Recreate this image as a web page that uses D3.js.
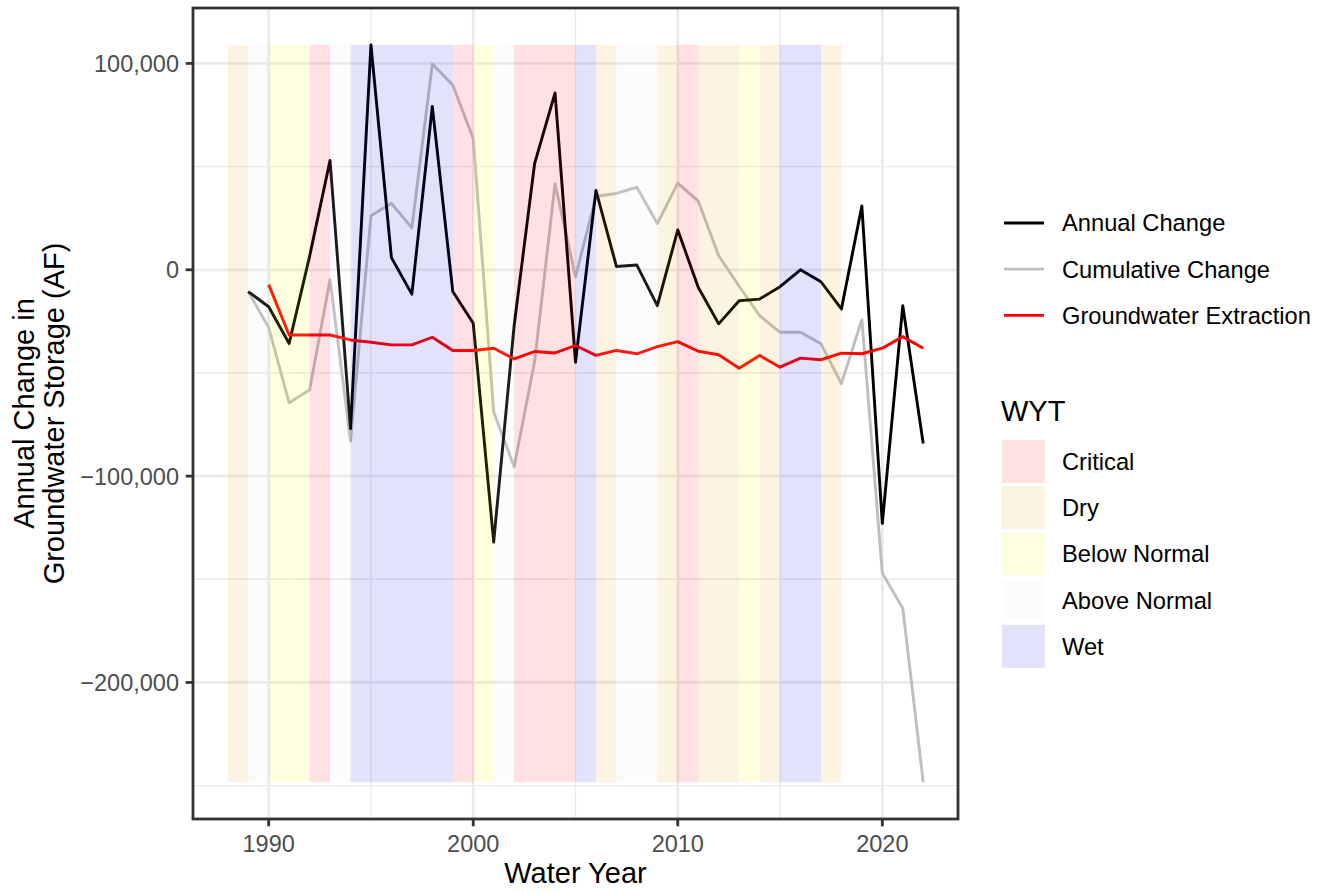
<!DOCTYPE html>
<html>
<head>
<meta charset="utf-8">
<script src="https://cdn.jsdelivr.net/npm/d3@7"></script>
<style>
  body { margin: 0; background: #fff; }
  text { font-family: "Liberation Sans", Arial, Helvetica, sans-serif; }
</style>
</head>
<body>
<script>
// water years for the storage series
var years = [1989, 1990, 1991, 1992, 1993, 1994, 1995, 1996, 1997, 1998, 1999, 2000,
  2001, 2002, 2003, 2004, 2005, 2006, 2007, 2008, 2009, 2010, 2011, 2012, 2013, 2014,
  2015, 2016, 2017, 2018, 2019, 2020, 2021, 2022]

var annualChange = [-10600, -17900, -35700, 6500, 53000, -77000, 109000, 5900, -11800, 79200,
  -10500, -25900, -132000, -27000, 51400, 85700, -44800, 38500, 1600, 2300, -17400, 19300,
  -8500, -26200, -15000, -14200, -8200, 0, -5800, -19000, 30900, -122900, -17400, -84200]

var cumulativeChange = [-10600, -28000, -64500, -58100, -4800, -83000, 26200, 32200, 20300, 99700,
  89500, 63600, -68800, -95500, -44500, 41600, -3400, 35500, 37000, 40000, 22400, 42000,
  33300, 6800, -8000, -22200, -30300, -30300, -35900, -55200, -24200, -147000, -164000, -248300]

var extractionYears = [1990, 1991, 1992, 1993, 1994, 1995, 1996, 1997, 1998, 1999, 2000,
  2001, 2002, 2003, 2004, 2005, 2006, 2007, 2008, 2009, 2010, 2011, 2012, 2013, 2014,
  2015, 2016, 2017, 2018, 2019, 2020, 2021, 2022]

var extraction = [-7200, -31600, -31600, -31600, -34000, -35100, -36400, -36400, -32700, -39100,
  -39100, -38000, -43200, -39600, -40300, -36700, -41500, -39100, -40700, -37200, -34800,
  -39500, -41200, -47700, -41500, -47200, -42800, -43600, -40400, -40700, -38000, -32400, -38000]

// water year type bands, each one spans [start, start + 1]
var wytStart = [1988, 1989, 1990, 1991, 1992, 1993, 1994, 1995, 1996, 1997, 1998, 1999,
  2000, 2001, 2002, 2003, 2004, 2005, 2006, 2007, 2008, 2009, 2010, 2011, 2012, 2013,
  2014, 2015, 2016, 2017]
var wytType = ['Dry', 'Above Normal', 'Below Normal', 'Below Normal', 'Critical', 'Above Normal',
  'Wet', 'Wet', 'Wet', 'Wet', 'Wet', 'Critical', 'Below Normal', 'Above Normal',
  'Critical', 'Critical', 'Critical', 'Wet', 'Dry', 'Above Normal', 'Above Normal', 'Dry',
  'Critical', 'Dry', 'Dry', 'Below Normal', 'Dry', 'Wet', 'Wet', 'Dry']

var wytLevels = ['Critical', 'Dry', 'Below Normal', 'Above Normal', 'Wet']
var wytColors = ['#ff0a1e', '#ee9a16', '#ffff00', '#e8e8e8', '#1010e0']

var seriesNames = ['Annual Change', 'Cumulative Change', 'Groundwater Extraction']
var seriesColors = ['#000000', '#bebebe', '#ff0000']

var xTicks = [1990, 2000, 2010, 2020]
var xMinor = [1995, 2005, 2015]
var yTicks = [-200000, -100000, 0, 100000]
var yMinor = [-250000, -150000, -50000, 50000]

var width = 1327, height = 893
var panel = { left: 193, top: 8, right: 958, bottom: 819 }
var bandAlpha = 0.12

var svg = d3.select('body')
  .append('svg')
  .attr('width', width)
  .attr('height', height)

// ggplot style 5% expansion
var xLo = d3.min(wytStart), xHi = d3.max(years)
var xPad = (xHi - xLo) * 0.05
var x = d3.scaleLinear()
  .domain([xLo - xPad, xHi + xPad])
  .range([panel.left, panel.right])

var allVals = annualChange.concat(cumulativeChange, extraction)
var yLo = d3.min(allVals), yHi = d3.max(allVals)
var yPad = (yHi - yLo) * 0.05
var y = d3.scaleLinear()
  .domain([yLo - yPad, yHi + yPad])
  .range([panel.bottom, panel.top])

var fillOf = d3.scaleOrdinal().domain(wytLevels).range(wytColors)

// grid
var grid = svg.append('g')
grid.selectAll('.ymin').data(yMinor).enter().append('line')
  .attr('x1', panel.left).attr('x2', panel.right)
  .attr('y1', function (d) { return y(d) }).attr('y2', function (d) { return y(d) })
  .attr('stroke', '#ebebeb').attr('stroke-width', 1.4)
grid.selectAll('.xmin').data(xMinor).enter().append('line')
  .attr('y1', panel.top).attr('y2', panel.bottom)
  .attr('x1', function (d) { return x(d) }).attr('x2', function (d) { return x(d) })
  .attr('stroke', '#ebebeb').attr('stroke-width', 1.4)
grid.selectAll('.ymaj').data(yTicks).enter().append('line')
  .attr('x1', panel.left).attr('x2', panel.right)
  .attr('y1', function (d) { return y(d) }).attr('y2', function (d) { return y(d) })
  .attr('stroke', '#ebebeb').attr('stroke-width', 2.8)
grid.selectAll('.xmaj').data(xTicks).enter().append('line')
  .attr('y1', panel.top).attr('y2', panel.bottom)
  .attr('x1', function (d) { return x(d) }).attr('x2', function (d) { return x(d) })
  .attr('stroke', '#ebebeb').attr('stroke-width', 2.8)

// lines
var line = d3.line()
  .x(function (d) { return x(d[0]) })
  .y(function (d) { return y(d[1]) })

var seriesData = [
  d3.zip(years, annualChange),
  d3.zip(years, cumulativeChange),
  d3.zip(extractionYears, extraction)
]

var drawOrder = [1, 0, 2]
drawOrder.forEach(function (i) {
  svg.append('path')
    .datum(seriesData[i])
    .attr('d', line)
    .attr('fill', 'none')
    .attr('stroke', seriesColors[i])
    .attr('stroke-width', 2.9)
    .attr('stroke-linejoin', 'round')
})

// WYT bands sit on top of the lines, semi transparent
var bandTop = d3.max(allVals), bandBottom = d3.min(allVals)
svg.append('g')
  .selectAll('rect')
  .data(d3.zip(wytStart, wytType))
  .enter().append('rect')
  .attr('x', function (d) { return x(d[0]) })
  .attr('width', function (d) { return x(d[0] + 1) - x(d[0]) })
  .attr('y', y(bandTop))
  .attr('height', y(bandBottom) - y(bandTop))
  .attr('fill', function (d) { return fillOf(d[1]) })
  .attr('fill-opacity', bandAlpha)

// panel border
svg.append('rect')
  .attr('x', panel.left).attr('y', panel.top)
  .attr('width', panel.right - panel.left)
  .attr('height', panel.bottom - panel.top)
  .attr('fill', 'none')
  .attr('stroke', '#333333')
  .attr('stroke-width', 2.8)

// axes
var fmt = d3.format(',')
var yAxis = svg.append('g')
yAxis.selectAll('line').data(yTicks).enter().append('line')
  .attr('x1', panel.left - 7.3).attr('x2', panel.left)
  .attr('y1', function (d) { return y(d) }).attr('y2', function (d) { return y(d) })
  .attr('stroke', '#333333').attr('stroke-width', 2.8)
yAxis.selectAll('text').data(yTicks).enter().append('text')
  .attr('x', panel.left - 14)
  .attr('y', function (d) { return y(d) + 8.4 })
  .attr('text-anchor', 'end')
  .attr('font-size', 23.5)
  .attr('fill', '#4d4d4d')
  .text(function (d) { return fmt(d) })

var xAxis = svg.append('g')
xAxis.selectAll('line').data(xTicks).enter().append('line')
  .attr('y1', panel.bottom).attr('y2', panel.bottom + 7.3)
  .attr('x1', function (d) { return x(d) }).attr('x2', function (d) { return x(d) })
  .attr('stroke', '#333333').attr('stroke-width', 2.8)
xAxis.selectAll('text').data(xTicks).enter().append('text')
  .attr('x', function (d) { return x(d) })
  .attr('y', 852)
  .attr('text-anchor', 'middle')
  .attr('font-size', 23.5)
  .attr('fill', '#4d4d4d')
  .text(function (d) { return d })

svg.append('text')
  .attr('x', (panel.left + panel.right) / 2)
  .attr('y', 883)
  .attr('text-anchor', 'middle')
  .attr('font-size', 29)
  .text('Water Year')

var midY = (panel.top + panel.bottom) / 2
var yTitle = ['Annual Change in', 'Groundwater Storage (AF)']
yTitle.forEach(function (t, i) {
  var bx = 34 + i * 30
  svg.append('text')
    .attr('transform', 'translate(' + bx + ',' + midY + ') rotate(-90)')
    .attr('text-anchor', 'middle')
    .attr('font-size', 29)
    .text(t)
})

// legend: series
var lg = svg.append('g')
seriesNames.forEach(function (name, i) {
  var ly = 223 + i * 46.2
  lg.append('line')
    .attr('x1', 1004).attr('x2', 1044)
    .attr('y1', ly).attr('y2', ly)
    .attr('stroke', seriesColors[i])
    .attr('stroke-width', 2.8)
  lg.append('text')
    .attr('x', 1062).attr('y', ly + 8.4)
    .attr('font-size', 23.7)
    .text(name)
})

// legend: WYT
lg.append('text')
  .attr('x', 1001).attr('y', 421)
  .attr('font-size', 29)
  .text('WYT')
wytLevels.forEach(function (name, i) {
  var ky = 440 + i * 46.2
  lg.append('rect')
    .attr('x', 1002).attr('y', ky)
    .attr('width', 43).attr('height', 43)
    .attr('fill', fillOf(name))
    .attr('fill-opacity', bandAlpha)
  lg.append('text')
    .attr('x', 1062).attr('y', ky + 21.5 + 8.4)
    .attr('font-size', 23.7)
    .text(name)
})
</script>
</body>
</html>
